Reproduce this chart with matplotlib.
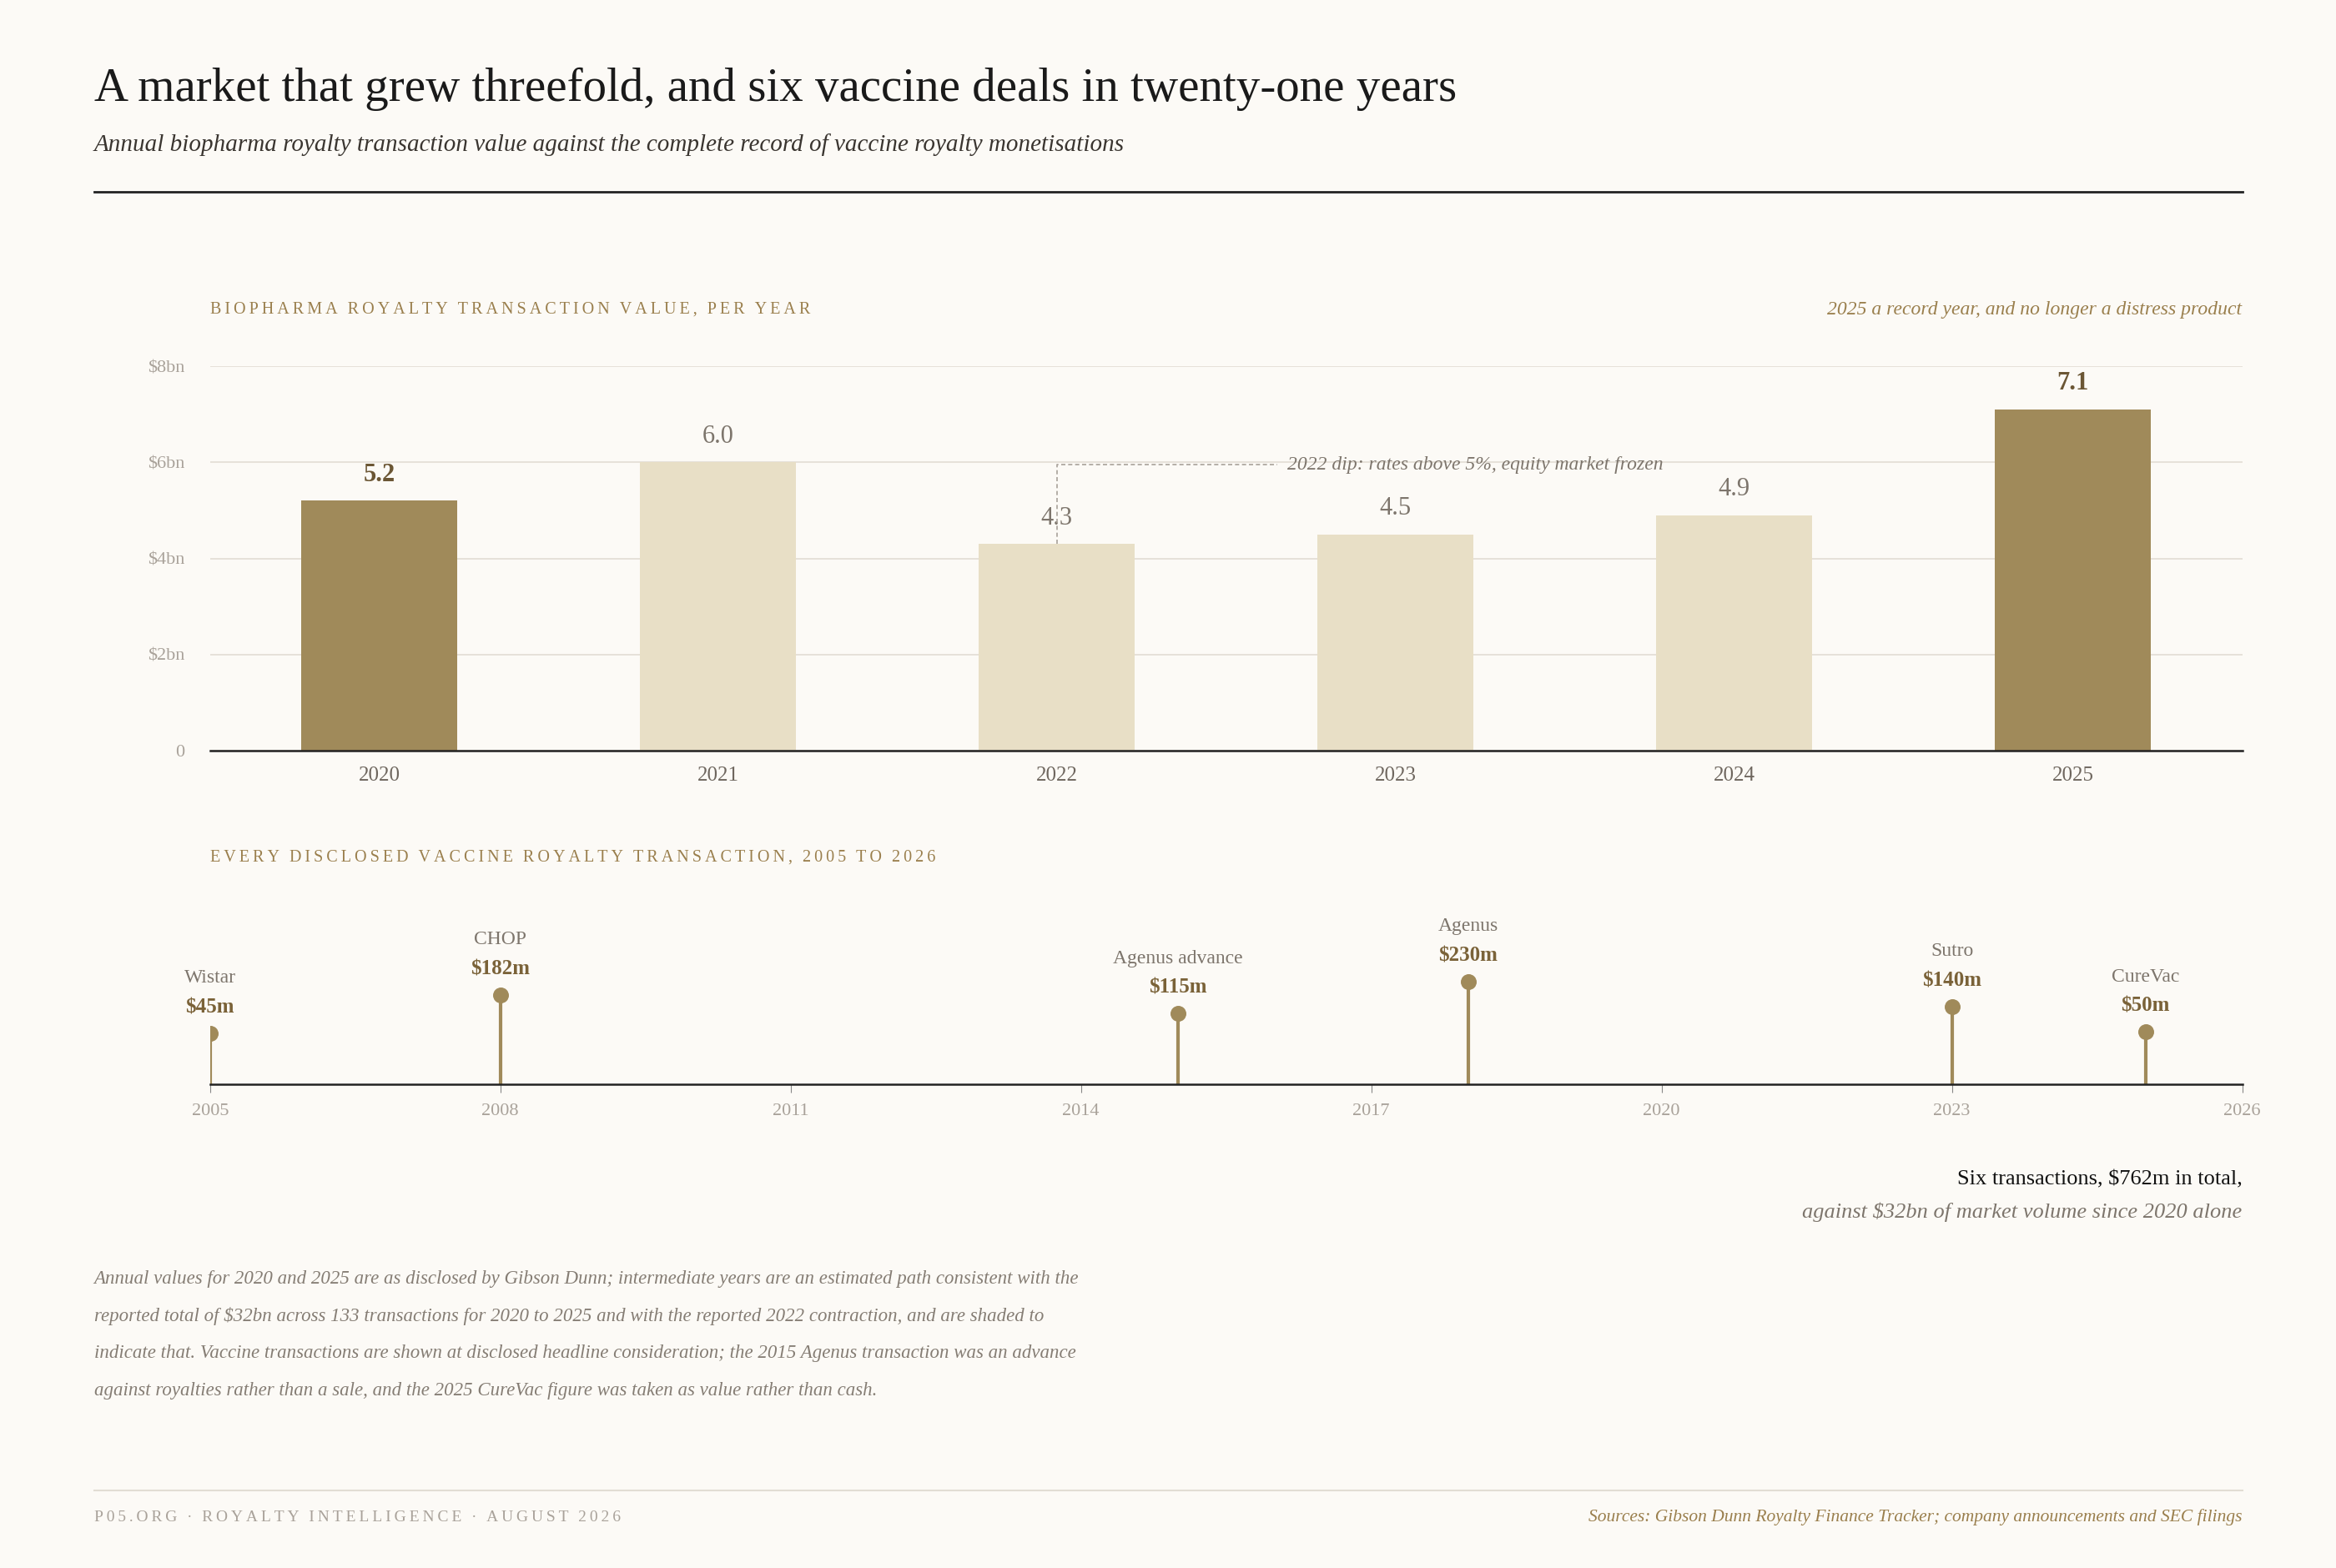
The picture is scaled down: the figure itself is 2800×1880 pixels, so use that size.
"""
Royalty market bars plus vaccine royalty deal timeline
"""
import matplotlib
matplotlib.use('Agg')
import matplotlib.pyplot as plt

plt.rcParams['font.family'] = ['Liberation Serif', 'DejaVu Serif']

# data
years = ['2020', '2021', '2022', '2023', '2024', '2025']
values = [5.2, 6.0, 4.3, 4.5, 4.9, 7.1]
disclosed = [True, False, False, False, False, True]
y_ticks = [0, 2, 4, 6, 8]
y_tick_labels = ['0', '$2bn', '$4bn', '$6bn', '$8bn']

deal_names = ['Wistar', 'CHOP', 'Agenus advance', 'Agenus', 'Sutro', 'CureVac']
deal_years = [2005, 2008, 2015, 2018, 2023, 2025]
deal_values = [45, 182, 115, 230, 140, 50]
t_ticks = [2005, 2008, 2011, 2014, 2017, 2020, 2023, 2026]

BG = '#FCFAF6'
DARK = '#A08A5A'
LIGHT = '#E8DFC6'
GOLD = '#9A7F4D'
GREY = '#A9A29A'
TXT = '#6E665E'

W, H = 1568, 1053  # layout grid in reference pixels


def fx(x):
    return x / W


def fy(y):
    return 1 - y / H


def track(s):
    return '\u2009'.join(s).replace('\u2009 \u2009', '\u2009\u2009\u2009')


fig = plt.figure(figsize=(28, 18.8), dpi=100, facecolor=BG)

# header
fig.text(fx(63), fy(60), 'A market that grew threefold, and six vaccine deals in twenty-one years',
         fontsize=41, color='#1a1a1a', va='center')
fig.text(fx(63), fy(97), 'Annual biopharma royalty transaction value against the complete record of vaccine royalty monetisations',
         fontsize=21, style='italic', color='#3a3530', va='center')
fig.add_artist(plt.Line2D([fx(63), fx(1505)], [fy(129), fy(129)], color='#222222', lw=2))

# ---- bars
fig.text(fx(141), fy(208), track('BIOPHARMA ROYALTY TRANSACTION VALUE, PER YEAR'),
         fontsize=14.5, color=GOLD, va='center')
fig.text(fx(1505), fy(208), '2025 a record year, and no longer a distress product',
         fontsize=17, style='italic', color=GOLD, va='center', ha='right')

ax = fig.add_axes([fx(141), fy(504), fx(1505) - fx(141), fy(246) - fy(504)])
ax.set_facecolor(BG)
xs = list(range(len(years)))
colors = [DARK if d else LIGHT for d in disclosed]
ax.bar(xs, values, width=0.46, color=colors, zorder=2)
ax.set_xlim(-0.5, 5.5)
ax.set_ylim(0, 8)
ax.set_yticks(y_ticks)
ax.set_yticklabels(y_tick_labels)
ax.set_xticks(xs)
ax.set_xticklabels(years)
ax.grid(axis='y', color='#E2DDD4', lw=1.2, zorder=0)
for s in ['top', 'right', 'left']:
    ax.spines[s].set_visible(False)
ax.spines['bottom'].set_color('#222222')
ax.spines['bottom'].set_linewidth(1.8)
ax.tick_params(axis='y', length=0, labelsize=16, labelcolor=GREY, pad=22)
ax.tick_params(axis='x', length=0, labelsize=18, labelcolor=TXT, pad=14)
for x, v, d in zip(xs, values, disclosed):
    ax.annotate(f'{v:.1f}', (x, v), xytext=(0, 12), textcoords='offset points',
                ha='center', va='bottom', fontsize=22,
                fontweight='bold' if d else 'normal',
                color='#6B5634' if d else '#7D756C')
# 2022 dip note
ax.plot([2, 2, 2.65], [4.3, 5.95, 5.95], ls=(0, (3, 2)), color='#A9A29A', lw=1.2, zorder=3)
ax.text(2.68, 5.95, '2022 dip: rates above 5%, equity market frozen', fontsize=17,
        style='italic', color='#7D756C', va='center')

# ---- timeline
fig.text(fx(141), fy(576), track('EVERY DISCLOSED VACCINE ROYALTY TRANSACTION, 2005 TO 2026'),
         fontsize=14.5, color=GOLD, va='center')
tx = fig.add_axes([fx(141), fy(728), fx(1505) - fx(141), fy(600) - fy(728)])
tx.set_facecolor('none')
tx.set_xlim(2005, 2026)
tx.set_ylim(0, 128)
stem_base = 25.5  # minimum stem height, then scaled by value
heights = [stem_base + 0.189 * v for v in deal_values]
tx.vlines(deal_years, 0, heights, color=DARK, lw=3)
tx.scatter(deal_years, heights, s=160, color=DARK, zorder=3)
for n, yr, v, h in zip(deal_names, deal_years, deal_values, heights):
    tx.annotate(f'${v}m', (yr, h), xytext=(0, 14), textcoords='offset points',
                ha='center', va='bottom', fontsize=18, fontweight='bold', color='#7A6238')
    tx.annotate(n, (yr, h), xytext=(0, 40), textcoords='offset points',
                ha='center', va='bottom', fontsize=17, color='#7D756C')
tx.set_xticks(t_ticks)
tx.set_yticks([])
for s in ['top', 'right', 'left']:
    tx.spines[s].set_visible(False)
tx.spines['bottom'].set_color('#222222')
tx.spines['bottom'].set_linewidth(1.8)
tx.tick_params(axis='x', length=7, color='#888888', labelsize=16, labelcolor=GREY, pad=10)

fig.text(fx(1505), fy(792), 'Six transactions, $762m in total,', fontsize=19,
         color='#111111', ha='right', va='center')
fig.text(fx(1505), fy(814), 'against $32bn of market volume since 2020 alone', fontsize=19,
         style='italic', color='#7D756C', ha='right', va='center')

# footnote
notes = [
    'Annual values for 2020 and 2025 are as disclosed by Gibson Dunn; intermediate years are an estimated path consistent with the',
    'reported total of $32bn across 133 transactions for 2020 to 2025 and with the reported 2022 contraction, and are shaded to',
    'indicate that. Vaccine transactions are shown at disclosed headline consideration; the 2015 Agenus transaction was an advance',
    'against royalties rather than a sale, and the 2025 CureVac figure was taken as value rather than cash.',
]
for i, line in enumerate(notes):
    fig.text(fx(63), fy(859 + 25 * i), line, fontsize=16.5, style='italic', color='#857D74', va='center')

# footer
fig.add_artist(plt.Line2D([fx(63), fx(1505)], [fy(1001), fy(1001)], color='#E2DDD4', lw=1.5))
fig.text(fx(63), fy(1019), track('P05.ORG · ROYALTY INTELLIGENCE · AUGUST 2026'),
         fontsize=14, color=GREY, va='center')
fig.text(fx(1505), fy(1019), 'Sources: Gibson Dunn Royalty Finance Tracker; company announcements and SEC filings',
         fontsize=15.5, style='italic', color=GOLD, ha='right', va='center')

fig.savefig('out.png', dpi=100, facecolor=BG)
